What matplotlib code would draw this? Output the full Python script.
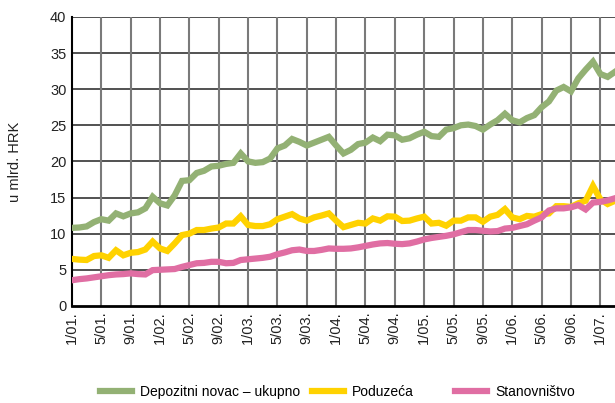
import numpy as np
import matplotlib
matplotlib.use("Agg")
import matplotlib.pyplot as plt
from matplotlib.lines import Line2D

plt.rcParams["font.family"] = ["Liberation Sans Narrow", "Liberation Sans", "DejaVu Sans"]

# ---------- podaci (mjesečno, 1/01. - 3/07.) ----------
depozitni = [10.8, 10.85, 11.0, 11.6, 12.0, 11.8, 12.8, 12.4, 12.8, 12.95,
             13.5, 15.1, 14.2, 13.9, 15.3, 17.3, 17.4, 18.4, 18.7, 19.3,
             19.4, 19.65, 19.8, 21.1, 20.0, 19.8, 19.9, 20.4, 21.8, 22.2,
             23.1, 22.7, 22.2, 22.6, 23.0, 23.4, 22.2, 21.1, 21.6, 22.4,
             22.6, 23.3, 22.8, 23.7, 23.6, 23.0, 23.2, 23.7, 24.1, 23.5,
             23.4, 24.4, 24.6, 25.0, 25.1, 24.9, 24.4, 25.1, 25.7, 26.6,
             25.7, 25.4, 26.0, 26.4, 27.5, 28.3, 29.8, 30.3, 29.7, 31.5,
             32.7, 33.8, 32.1, 31.7, 32.4]
poduzeca = [6.5, 6.4, 6.35, 6.9, 7.0, 6.65, 7.7, 7.0, 7.35, 7.45,
            7.8, 8.9, 7.95, 7.6, 8.65, 9.8, 10.0, 10.5, 10.5, 10.7,
            10.85, 11.4, 11.4, 12.4, 11.2, 11.05, 11.05, 11.3, 12.0, 12.35,
            12.7, 12.1, 11.8, 12.25, 12.5, 12.8, 11.8, 10.9, 11.2, 11.5,
            11.4, 12.1, 11.8, 12.4, 12.35, 11.75, 11.8, 12.1, 12.35, 11.4,
            11.5, 11.1, 11.8, 11.8, 12.25, 12.25, 11.65, 12.35, 12.6, 13.4,
            12.25, 12.0, 12.45, 12.35, 12.7, 12.8, 13.8, 13.8, 13.7, 14.2,
            14.55, 16.6, 14.75, 14.1, 14.55]
stanovnistvo = [3.55, 3.7, 3.8, 3.95, 4.1, 4.25, 4.35, 4.4, 4.5, 4.4,
                4.35, 4.95, 5.0, 5.05, 5.1, 5.4, 5.65, 5.9, 5.95, 6.1,
                6.1, 5.9, 5.95, 6.35, 6.45, 6.55, 6.65, 6.8, 7.15, 7.4,
                7.7, 7.8, 7.6, 7.6, 7.75, 7.95, 7.9, 7.9, 7.95, 8.1,
                8.3, 8.5, 8.65, 8.7, 8.6, 8.55, 8.65, 8.9, 9.2, 9.4,
                9.55, 9.7, 9.9, 10.2, 10.5, 10.5, 10.4, 10.3, 10.35, 10.7,
                10.8, 11.05, 11.3, 11.8, 12.25, 13.2, 13.5, 13.5, 13.65, 13.95,
                13.35, 14.3, 14.4, 14.6, 14.9]
tick_labels = ["1/01.", "5/01.", "9/01.", "1/02.", "5/02.", "9/02.", "1/03.",
               "5/03.", "9/03.", "1/04.", "5/04.", "9/04.", "1/05.", "5/05.",
               "9/05.", "1/06.", "5/06.", "9/06.", "1/07."]
nazivi = ["Depozitni novac – ukupno", "Poduzeća", "Stanovništvo"]
boje = ["#93b174", "#ffd200", "#e06ea3"]

# ---------- crtež ----------
fig = plt.figure(figsize=(6.15, 4.03), dpi=100)
ax = fig.add_axes([0.117, 0.241, 0.883, 0.717])

mjeseci = np.arange(len(depozitni))
for serija, naziv, boja in zip([depozitni, poduzeca, stanovnistvo], nazivi, boje):
    ax.plot(mjeseci, serija, color=boja, lw=4.5, label=naziv,
            solid_joinstyle="miter", zorder=3)

ax.set_xlim(0, 74)
ax.set_ylim(0, 40)
ax.set_yticks(np.arange(0, 41, 5))
ax.set_xticks(np.arange(0, 4 * len(tick_labels), 4))
ax.set_xticklabels(tick_labels, rotation=90, va="top")
ax.tick_params(length=0, labelsize=10.5, colors="#222222", pad=4)

# mreža
for y in np.arange(5, 41, 5):
    ax.axhline(y, color="#222222", lw=1.1, zorder=1)
for x in np.arange(4, 75, 4):
    ax.axvline(x, color="#7a7a7a", lw=1.5, zorder=1)

for s in ["top", "right"]:
    ax.spines[s].set_visible(False)
ax.spines["left"].set_linewidth(1.5)
ax.spines["bottom"].set_linewidth(2)

ax.set_ylabel("u mlrd. HRK", fontsize=10.5, color="#222222", labelpad=20)

# legenda - tri zasebna unosa
for naziv, boja, x0 in zip(nazivi, boje, [100, 312, 455]):
    h = Line2D([], [], color=boja, lw=4.5)
    fig.legend([h], [naziv], loc="center left", bbox_to_anchor=(x0 / 615, 0.027),
               frameon=False, fontsize=10, handlelength=2.3, handletextpad=0.6,
               borderpad=0, borderaxespad=0)

fig.savefig("out.png", dpi=100)
